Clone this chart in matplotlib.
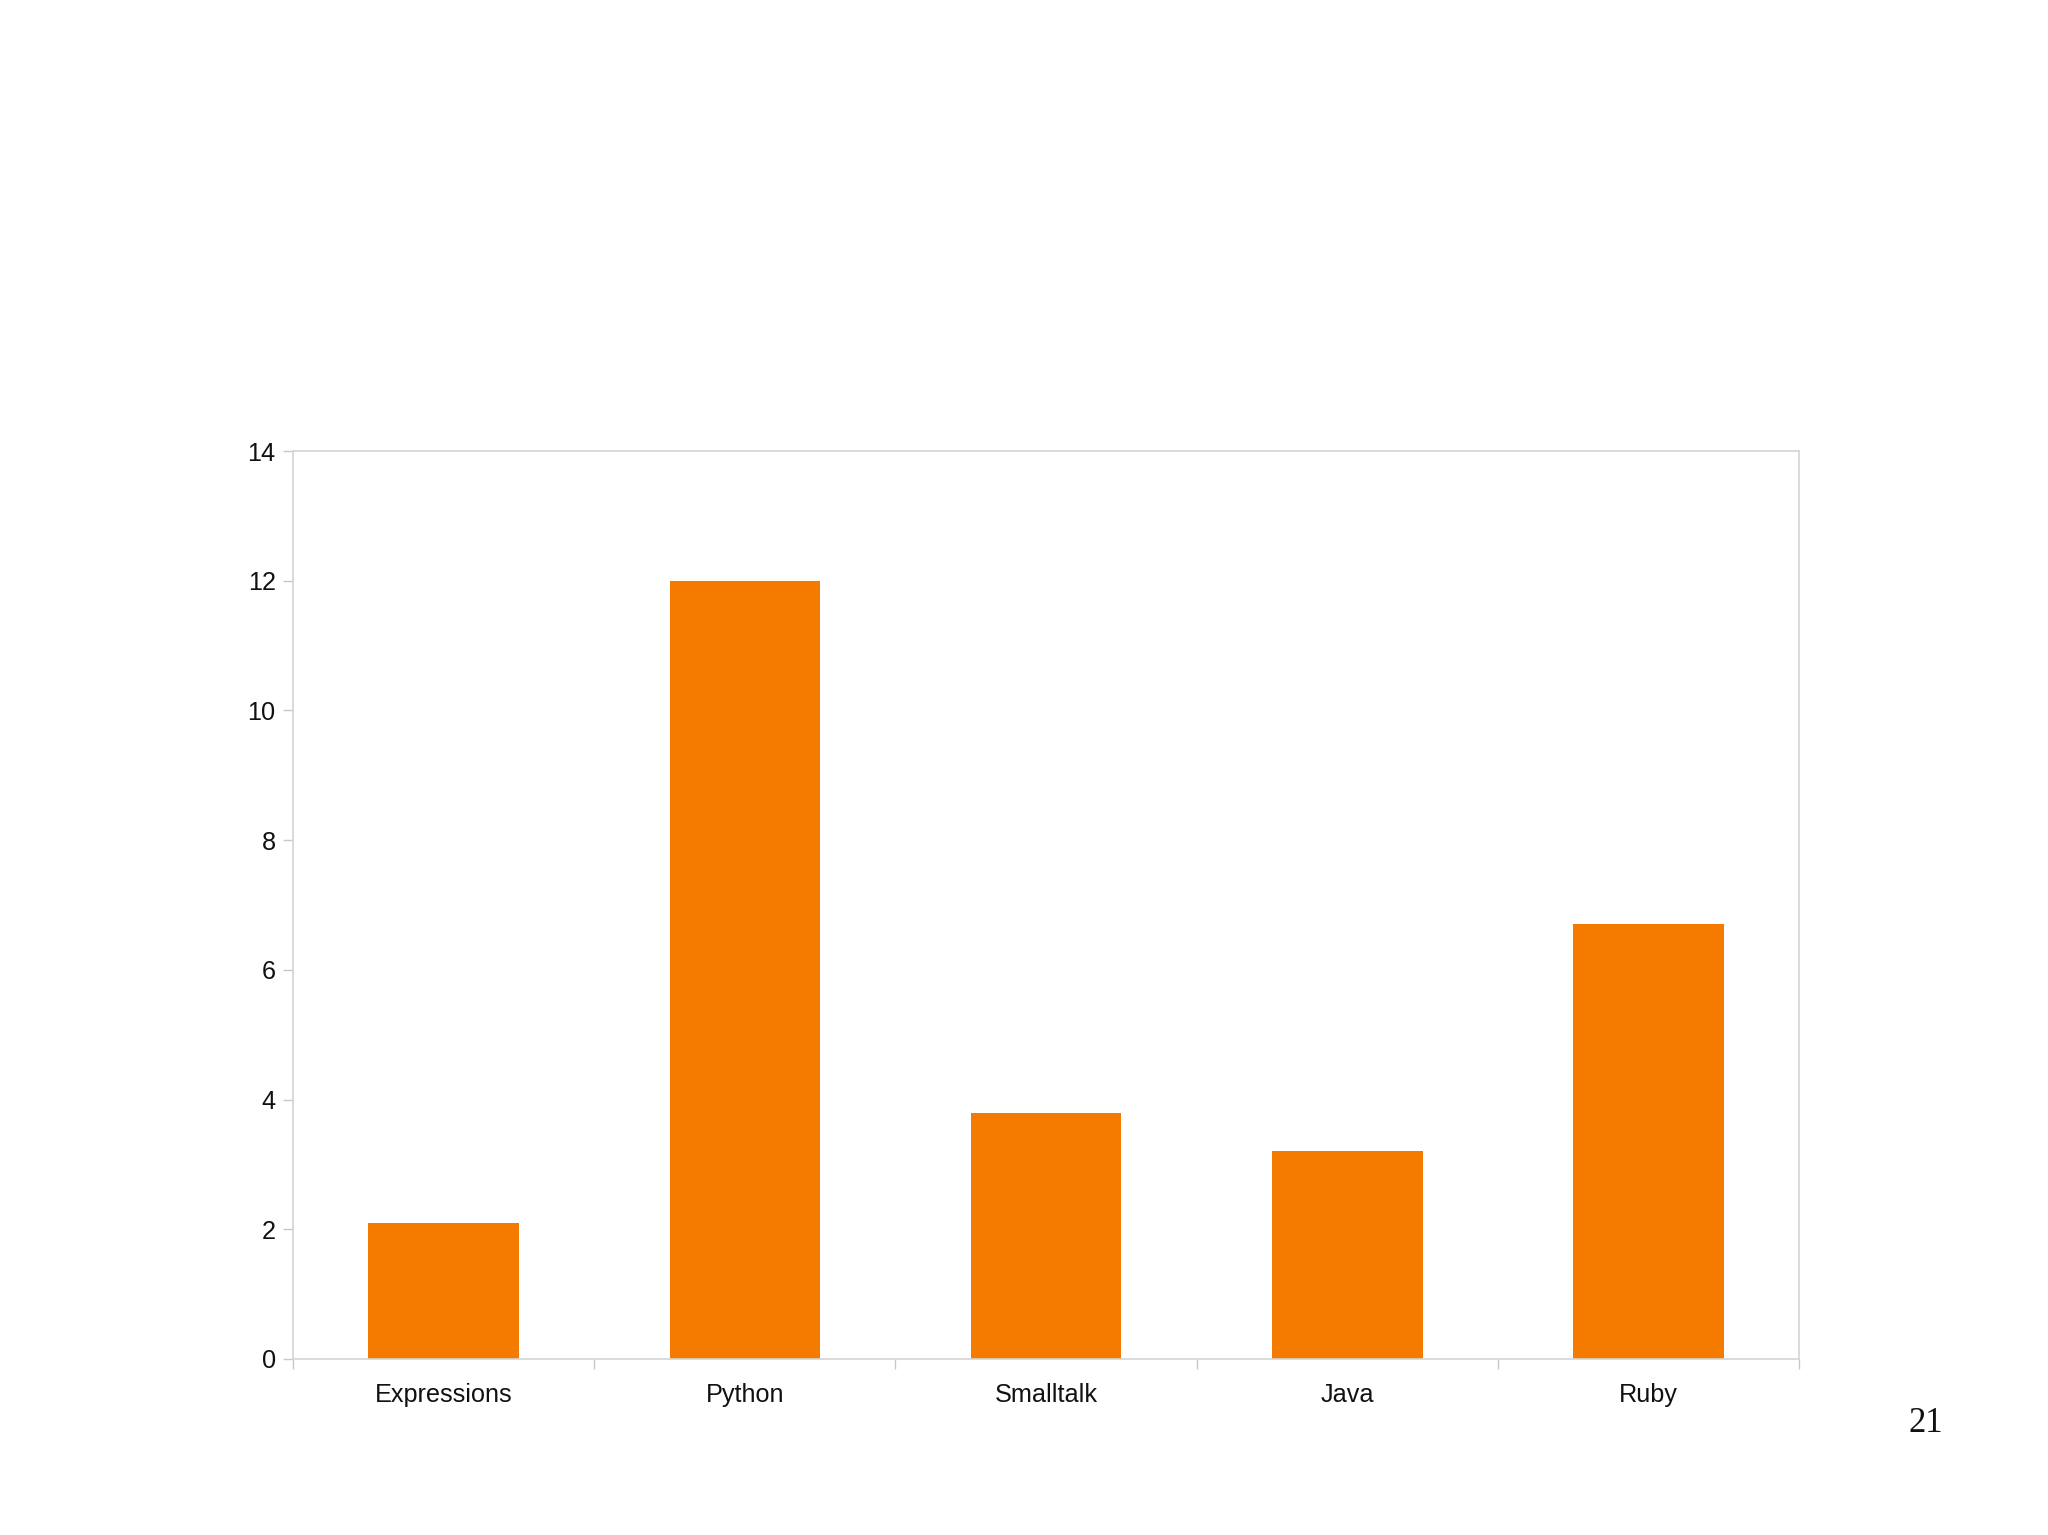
import matplotlib
matplotlib.use("Agg")
import matplotlib.pyplot as plt
import numpy as np

# data
categories = ["Expressions", "Python", "Smalltalk", "Java", "Ruby"]
values = [2.1, 12.0, 3.8, 3.2, 6.7]
yticks = [0, 2, 4, 6, 8, 10, 12, 14]

W, H = 2048, 1535
fig = plt.figure(figsize=(W / 100, H / 100), dpi=100)
# axes box in pixels: left 293, right 1799, top 451, bottom 1359
ax = fig.add_axes([293 / W, 1 - 1359 / H, (1799 - 293) / W, (1359 - 451) / H])

x = np.arange(len(categories))
ax.bar(x, values, width=0.5, color="#f47a00", zorder=2)

ax.set_xlim(-0.5, len(categories) - 0.5)
ax.set_ylim(0, 14)
ax.set_yticks(yticks)
ax.set_yticklabels([str(v) for v in yticks])

# category labels centered, tick marks at the boundaries
ax.set_xticks(x)
ax.set_xticklabels(categories)
ax.set_xticks(np.arange(len(categories) + 1) - 0.5, minor=True)
ax.tick_params(axis="x", which="major", length=0, pad=17)
ax.tick_params(axis="x", which="minor", length=7.5, color="#c8c8c8", width=1)
ax.tick_params(axis="y", length=7.5, color="#c8c8c8", width=1, pad=5)

for lab in ax.get_xticklabels() + ax.get_yticklabels():
    lab.set_family("Liberation Sans")
    lab.set_fontsize(18.2)
    lab.set_color("#111111")

for s in ax.spines.values():
    s.set_color("#d4d4d4")
    s.set_linewidth(1.2)

fig.text(1926 / W, 1 - 1423 / H, "21", family="Liberation Serif",
         fontsize=25, ha="center", va="center", color="#111111")

fig.savefig("out.png", dpi=100, facecolor="white")
